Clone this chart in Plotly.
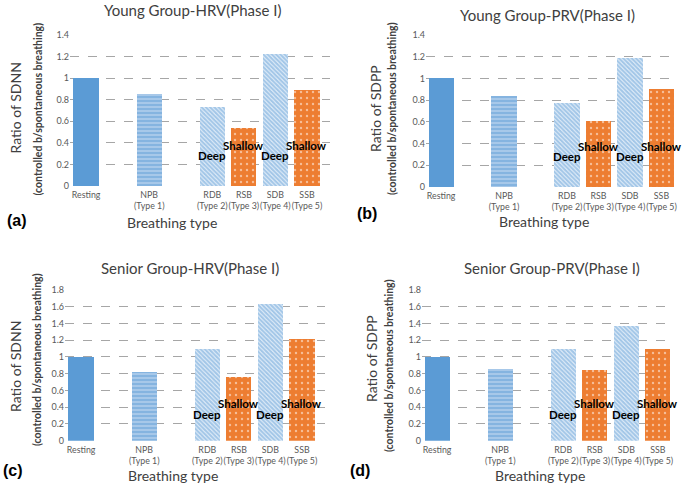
import plotly.graph_objects as go

categories = ["Resting", "NPB", "RDB", "RSB", "SDB", "SSB"]
cat_pos = [0, 2, 4, 5, 6, 7]
tick_text = ["Resting", "NPB<br>(Type 1)", "RDB<br>(Type 2)", "RSB<br>(Type 3)", "SDB<br>(Type 4)", "SSB<br>(Type 5)"]

young_hrv = [1.0, 0.85, 0.73, 0.535, 1.22, 0.893]
young_prv = [1.0, 0.84, 0.775, 0.607, 1.19, 0.90]
senior_hrv = [1.0, 0.82, 1.09, 0.765, 1.633, 1.21]
senior_prv = [1.0, 0.86, 1.09, 0.85, 1.37, 1.095]

titles = ["Young Group-HRV(Phase I)", "Young Group-PRV(Phase I)",
          "Senior Group-HRV(Phase I)", "Senior Group-PRV(Phase I)"]
ytitles = ["Ratio of SDNN", "Ratio of SDPP", "Ratio of SDNN", "Ratio of SDPP"]
panel_labels = ["(a)", "(b)", "(c)", "(d)"]
series = [young_hrv, young_prv, senior_hrv, senior_prv]
ymax = [1.4, 1.4, 1.8, 1.8]

W, H = 685, 484
BLUE = "#5B9BD5"
ORANGE = "#ED7D31"
FONT = "Lato"

def px(x):
    return x / W

def py(y):
    return 1 - y / H

# layout geometry (pixels)
plot_boxes = [  # x0, x1, ytop, ybottom
    (70, 330, 35, 186),
    (426, 675, 35, 187),
    (65, 325, 290, 440.7),
    (422, 673, 290, 440.7),
]
xranges = [[-0.51, 7.73], [-0.48, 7.43], [-0.51, 7.73], [-0.48, 7.48]]
title_pos = [(192, 10), (547, 15), (190, 268), (552, 268)]
ytitle1_pos = [(14.5, 108), (376, 109), (15, 367), (371, 359)]
ytitle2_pos = [(37.5, 109), (392, 108), (37, 360), (389, 366)]
plabel_pos = [(17, 220), (367, 213), (13, 470), (360, 470)]
btype_pos = [(172, 222), (544, 221), (173, 475), (540, 475)]
deep_frac = [0.2, 0.2, 0.172, 0.172]
shallow_frac = [0.267, 0.267, 0.244, 0.244]

# per-category styles
styles = [
    dict(color=BLUE, pattern=dict(shape="")),
    dict(color="#AFCDEB", pattern=dict(shape="-", fgcolor=BLUE, solidity=0.6, size=4, fillmode="overlay")),
    dict(color="#EAF2FA", pattern=dict(shape="\\", fgcolor=BLUE, solidity=0.7, size=3, fillmode="overlay")),
    dict(color=ORANGE, pattern=dict(shape=".", fgcolor="white", solidity=0.12, size=6, fillmode="overlay")),
    dict(color="#EAF2FA", pattern=dict(shape="\\", fgcolor=BLUE, solidity=0.7, size=3, fillmode="overlay")),
    dict(color=ORANGE, pattern=dict(shape=".", fgcolor="white", solidity=0.12, size=6, fillmode="overlay")),
]

fig = go.Figure()
annotations = []
for i in range(4):
    ax = "" if i == 0 else str(i + 1)
    x0, x1, yt, yb = plot_boxes[i]
    for j in range(len(categories)):
        st = styles[j]
        fig.add_trace(go.Bar(
            x=[cat_pos[j]], y=[series[i][j]], width=0.8, name=categories[j],
            xaxis="x" + ax, yaxis="y" + ax,
            marker=dict(color=st["color"], line=dict(width=0), pattern=st["pattern"]),
            showlegend=False, hoverinfo="skip"))
    fig.update_layout(**{
        "xaxis" + ax: dict(domain=[px(x0), px(x1)], anchor="y" + ax, range=xranges[i],
                           tickvals=cat_pos, ticktext=tick_text, showgrid=False,
                           zeroline=False, showline=False, ticks="", tickangle=0,
                           automargin=False, ticklabelstandoff=2,
                           tickfont=dict(family=FONT, size=8.8, color="#595959")),
        "yaxis" + ax: dict(domain=[py(yb), py(yt)], anchor="x" + ax, range=[0, ymax[i]],
                           dtick=0.2, tick0=0, showgrid=True, gridcolor="#A6A6A6",
                           griddash="dash", gridwidth=1, zeroline=False, showline=False,
                           ticks="", automargin=False,
                           tickfont=dict(family=FONT, size=9, color="#595959")),
    })
    tx, ty = title_pos[i]
    annotations.append(dict(text=titles[i], x=px(tx), y=py(ty), xref="paper", yref="paper",
                            showarrow=False, xanchor="center", yanchor="middle",
                            font=dict(family=FONT, size=15, color="#404040")))
    a, b = ytitle1_pos[i]
    annotations.append(dict(text=ytitles[i], x=px(a), y=py(b), xref="paper", yref="paper",
                            showarrow=False, textangle=-90, xanchor="center", yanchor="middle",
                            font=dict(family=FONT, size=14, color="#404040")))
    a, b = ytitle2_pos[i]
    annotations.append(dict(text="<b>(controlled b/spontaneous breathing)</b>", x=px(a), y=py(b),
                            xref="paper", yref="paper", showarrow=False, textangle=-90,
                            xanchor="center", yanchor="middle",
                            font=dict(family=FONT, size=10.5, color="#404040")))
    a, b = plabel_pos[i]
    annotations.append(dict(text="<b>" + panel_labels[i] + "</b>", x=px(a), y=py(b),
                            xref="paper", yref="paper", showarrow=False,
                            xanchor="center", yanchor="middle",
                            font=dict(family="Liberation Sans", size=16, color="black")))
    a, b = btype_pos[i]
    annotations.append(dict(text="Breathing type", x=px(a), y=py(b), xref="paper", yref="paper",
                            showarrow=False, xanchor="center", yanchor="middle",
                            font=dict(family=FONT, size=14, color="#404040")))
    for k, word, frac in [(4, "Deep", deep_frac[i]), (5, "Shallow", shallow_frac[i]),
                          (6, "Deep", deep_frac[i]), (7, "Shallow", shallow_frac[i])]:
        annotations.append(dict(text="<b>" + word + "</b>", x=k, y=frac,
                                xref="x" + ax, yref="y" + ax + " domain",
                                showarrow=False, xanchor="center", yanchor="middle",
                                font=dict(family=FONT, size=11.5, color="black")))

fig.update_layout(width=W, height=H, margin=dict(l=0, r=0, t=0, b=0),
                  plot_bgcolor="white", paper_bgcolor="white",
                  annotations=annotations, bargap=0, barmode="overlay")
fig.write_html("out.html", config={"displayModeBar": False},
               post_script="document.body.style.margin='0';document.body.style.overflow='hidden';")
